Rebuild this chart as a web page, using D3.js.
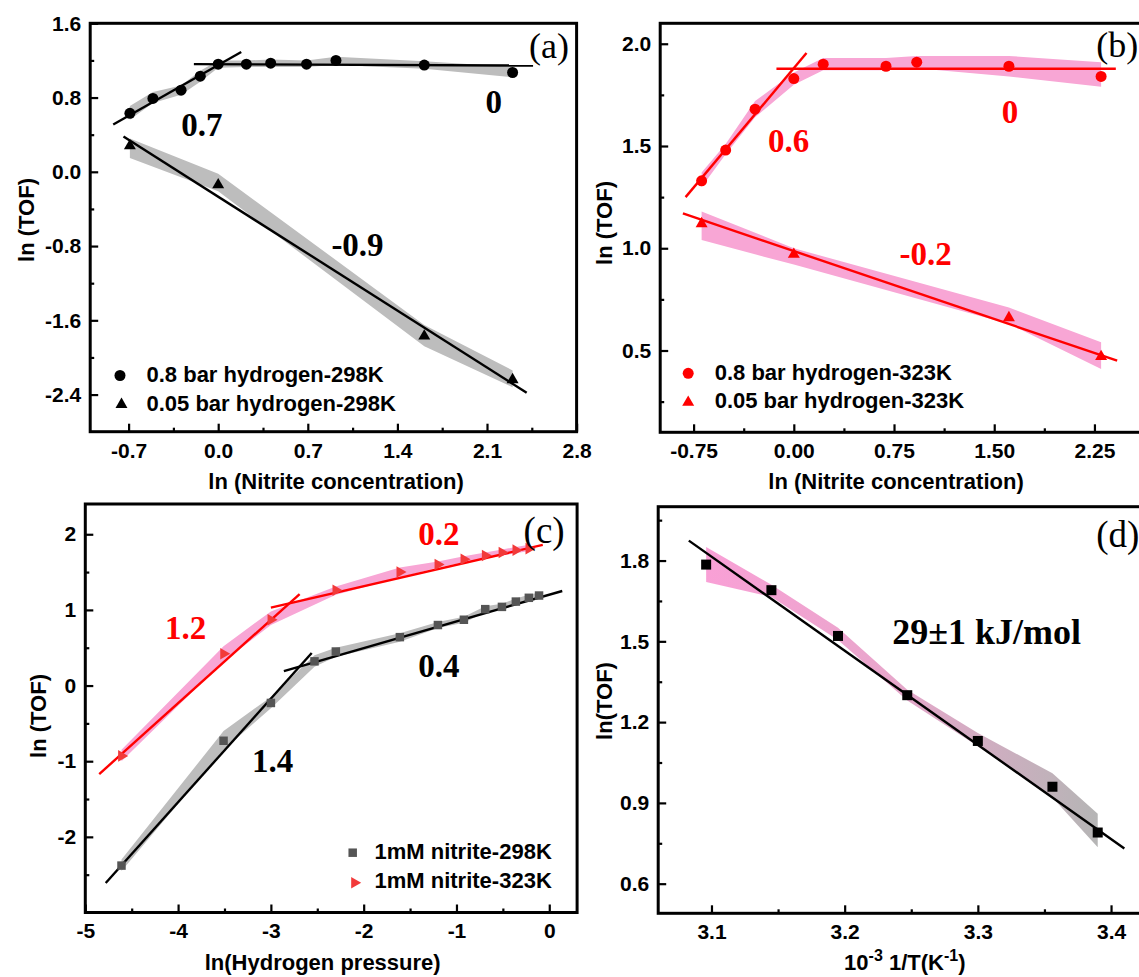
<!DOCTYPE html>
<html><head><meta charset="utf-8">
<script src="https://cdn.jsdelivr.net/npm/d3@7"></script>
<style>body{margin:0;background:#fff} svg{display:block}</style>
</head><body>
<svg id="chart" width="1139" height="977"></svg>
<script>
// ---------------- DATA ----------------
// (a) 298 K, ln(nitrite concentration)
const aCircX  = [-0.69, -0.51, -0.29, -0.14, 0.00, 0.22, 0.41, 0.69, 0.92, 1.61, 2.30];
const aCircY  = [0.63, 0.79, 0.88, 1.03, 1.16, 1.16, 1.17, 1.16, 1.20, 1.15, 1.07];
const aCircLo = [0.56, 0.74, 0.83, 0.97, 1.12, 1.13, 1.13, 1.13, 1.15, 1.11, 1.02];
const aCircHi = [0.71, 0.86, 0.93, 1.09, 1.20, 1.20, 1.21, 1.20, 1.24, 1.19, 1.13];
const aTriX   = [-0.69, 0.00, 1.61, 2.30];
const aTriY   = [0.28, -0.14, -1.77, -2.24];
const aTriLo  = [0.15, -0.21, -1.88, -2.32];
const aTriHi  = [0.36, -0.02, -1.65, -2.14];
const aFit1   = [[-0.82, 0.51], [0.18, 1.29]];
const aFit2   = [[-0.19, 1.16], [2.46, 1.145]];
const aFit3   = [[-0.74, 0.38], [2.41, -2.38]];
const aXTicks = [-0.7, 0.0, 0.7, 1.4, 2.1, 2.8];
const aYTicks = [-2.4, -1.6, -0.8, 0.0, 0.8, 1.6];
const aLegend = ["0.8 bar hydrogen-298K", "0.05 bar hydrogen-298K"];

// (b) 323 K
const bCircX  = [-0.69, -0.51, -0.29, 0.00, 0.22, 0.69, 0.92, 1.61, 2.30];
const bCircY  = [1.33, 1.48, 1.68, 1.83, 1.90, 1.89, 1.91, 1.89, 1.84];
const bCircLo = [1.30, 1.46, 1.64, 1.80, 1.87, 1.87, 1.88, 1.84, 1.79];
const bCircHi = [1.37, 1.51, 1.72, 1.86, 1.93, 1.93, 1.94, 1.94, 1.91];
const bTriX   = [-0.69, 0.00, 1.61, 2.30];
const bTriY   = [1.12, 0.97, 0.66, 0.47];
const bTriLo  = [1.04, 0.92, 0.63, 0.41];
const bTriHi  = [1.18, 1.00, 0.71, 0.54];
const bFit1   = [[-0.81, 1.25], [0.095, 1.955]];
const bFit2   = [[-0.13, 1.878], [2.41, 1.878]];
const bFit3   = [[-0.83, 1.17], [2.42, 0.45]];
const bXTicks = [-0.75, 0.0, 0.75, 1.5, 2.25];
const bYTicks = [0.5, 1.0, 1.5, 2.0];
const bLegend = ["0.8 bar hydrogen-323K", "0.05 bar hydrogen-323K"];

// (c) ln(hydrogen pressure), 1 mM nitrite
const cSqX  = [-4.61, -3.51, -3.00, -2.53, -2.30, -1.61, -1.20, -0.92, -0.69, -0.51, -0.36, -0.22, -0.11];
const cSqY  = [-2.38, -0.73, -0.23, 0.32, 0.45, 0.64, 0.80, 0.87, 1.01, 1.04, 1.11, 1.16, 1.19];
const cSqLo = [-2.45, -0.85, -0.30, 0.25, 0.38, 0.58, 0.76, 0.83, 0.97, 1.00, 1.07, 1.12, 1.15];
const cSqHi = [-2.30, -0.60, -0.15, 0.40, 0.50, 0.69, 0.84, 0.91, 1.05, 1.08, 1.15, 1.20, 1.23];
const cTriX  = [-4.61, -3.51, -3.00, -2.30, -1.61, -1.20, -0.92, -0.69, -0.51, -0.36, -0.22];
const cTriY  = [-0.93, 0.42, 0.87, 1.26, 1.50, 1.60, 1.67, 1.72, 1.76, 1.79, 1.81];
const cTriLo = [-1.00, 0.32, 0.80, 1.20, 1.43, 1.56, 1.63, 1.68, 1.72, 1.75, 1.78];
const cTriHi = [-0.85, 0.52, 0.98, 1.31, 1.56, 1.64, 1.71, 1.76, 1.80, 1.83, 1.86];
const cFitR1 = [[-4.85, -1.17], [-2.69, 1.21]];
const cFitR2 = [[-3.00, 1.03], [-0.07, 1.86]];
const cFitK1 = [[-4.78, -2.61], [-2.56, 0.43]];
const cFitK2 = [[-2.86, 0.19], [0.14, 1.25]];
const cXTicks = [-5, -4, -3, -2, -1, 0];
const cYTicks = [-2, -1, 0, 1, 2];
const cLegend = ["1mM nitrite-298K", "1mM nitrite-323K"];

// (d) Arrhenius
const dX  = [3.096, 3.145, 3.195, 3.247, 3.300, 3.356, 3.390];
const dY  = [1.785, 1.69, 1.52, 1.30, 1.13, 0.96, 0.79];
const dLo = [1.72, 1.665, 1.505, 1.28, 1.11, 0.92, 0.735];
const dHi = [1.85, 1.71, 1.55, 1.32, 1.16, 1.01, 0.86];
const dFit = [[3.083, 1.874], [3.41, 0.731]];
const dXTicks = [3.1, 3.2, 3.3, 3.4];
const dYTicks = [0.6, 0.9, 1.2, 1.5, 1.8];

// ---------------- DRAWING ----------------
const SANS = "'Liberation Sans', Arial, Helvetica, sans-serif";
const SERIF = "'Liberation Serif', 'Times New Roman', Times, serif";
const RED = "#ff0000";
const PINK = "#f8a6d5";
const GREY = "#bdbdbd";
const svg = d3.select("#chart").style("font-family", SANS);
const defs = svg.append("defs");
const grad = defs.append("linearGradient").attr("id", "dgrad")
  .attr("x1", "0%").attr("x2", "100%").attr("y1", "0%").attr("y2", "0%");
grad.append("stop").attr("offset", "0%").attr("stop-color", "#f9a0d6");
grad.append("stop").attr("offset", "45%").attr("stop-color", "#e9a6cc");
grad.append("stop").attr("offset", "100%").attr("stop-color", "#b5b5b5");

const zip3 = (xs, lo, hi) => xs.map((v, i) => ({x: v, lo: lo[i], hi: hi[i]}));
const zip2 = (xs, ys) => xs.map((v, i) => ({x: v, y: ys[i]}));

function panel(o) {
  const x = d3.scaleLinear().domain(o.xDom).range(o.xRange);
  const y = d3.scaleLinear().domain(o.yDom).range(o.yRange);
  const g = svg.append("g");
  const area = d3.area().x(d => x(d.x)).y0(d => y(d.lo)).y1(d => y(d.hi));
  const line = d3.line().x(d => x(d[0])).y(d => y(d[1]));

  o.bands.forEach(b => g.append("path").datum(zip3(b.x, b.lo, b.hi))
    .attr("d", area).attr("fill", b.fill).attr("stroke", "none"));
  o.fits.forEach(f => g.append("path").datum(f.pts).attr("d", line)
    .attr("fill", "none").attr("stroke", f.color).attr("stroke-width", 2.4));
  o.series.forEach(s => {
    const sym = d3.symbol().type(s.type).size(s.size);
    g.selectAll(null).data(zip2(s.x, s.y)).join("path")
      .attr("d", sym)
      .attr("transform", d => `translate(${x(d.x)},${y(d.y)}) rotate(${s.rot || 0})`)
      .attr("fill", s.color);
  });

  // axes
  const x0 = o.xRange[0], y0 = o.yRange[0];
  const styleAxis = sel => {
    sel.select(".domain").remove();
    sel.selectAll(".tick line").attr("stroke", "#000").attr("stroke-width", 2.2);
    sel.selectAll(".tick text").attr("font-family", SANS).attr("font-size", 21)
      .attr("font-weight", "bold").attr("fill", "#000");
  };
  g.append("g").attr("transform", `translate(0,${y0})`)
    .call(d3.axisBottom(x).tickValues(o.xTicks).tickFormat(o.xFmt).tickSize(-8).tickPadding(11))
    .call(styleAxis);
  g.append("g").attr("transform", `translate(0,${y0})`)
    .call(d3.axisBottom(x).tickValues(o.xMinor).tickFormat("").tickSize(-4))
    .call(styleAxis);
  g.append("g").attr("transform", `translate(${x0},0)`)
    .call(d3.axisLeft(y).tickValues(o.yTicks).tickFormat(o.yFmt).tickSize(-8).tickPadding(9))
    .call(styleAxis);
  g.append("g").attr("transform", `translate(${x0},0)`)
    .call(d3.axisLeft(y).tickValues(o.yMinor).tickFormat("").tickSize(-4))
    .call(styleAxis);

  // frame
  g.append("rect").attr("x", o.xRange[0]).attr("y", o.yRange[1])
    .attr("width", o.xRange[1] - o.xRange[0]).attr("height", o.yRange[0] - o.yRange[1])
    .attr("fill", "none").attr("stroke", "#000").attr("stroke-width", 3);

  // legend
  (o.legend || []).forEach(l => {
    const sym = d3.symbol().type(l.type).size(l.size);
    g.append("path").attr("d", sym)
      .attr("transform", `translate(${l.mx},${l.my}) rotate(${l.rot || 0})`).attr("fill", l.color);
    g.append("text").attr("x", l.tx).attr("y", l.ty).text(l.text)
      .attr("font-size", 22).attr("font-weight", "bold").attr("fill", "#000");
  });

  // annotations
  (o.notes || []).forEach(n => {
    g.append("text").attr("x", n.x).attr("y", n.y).text(n.text)
      .attr("font-family", SERIF).attr("font-size", n.size).attr("font-weight", n.bold ? "bold" : "normal")
      .attr("text-anchor", n.anchor || "middle").attr("fill", n.color || "#000");
  });

  // axis titles
  g.append("text").attr("transform", `translate(${o.yTitle.x},${o.yTitle.y}) rotate(-90)`)
    .attr("text-anchor", "middle").attr("dominant-baseline", "central")
    .attr("font-size", 22).attr("font-weight", "bold").text(o.yTitle.text);
  if (o.xTitle.text) {
    g.append("text").attr("x", o.xTitle.x).attr("y", o.xTitle.y).attr("text-anchor", "middle")
      .attr("font-size", 22).attr("font-weight", "bold").text(o.xTitle.text);
  }
  return {x, y, g};
}

const f1 = d => d.toFixed(1), f2 = d => d.toFixed(2), f0 = d => d.toFixed(0);

// (a)
panel({
  xDom: [-1.0, 2.8], xRange: [90.2, 576.6], yDom: [-2.8, 1.6], yRange: [431.7, 23.3],
  xTicks: aXTicks, xMinor: [-0.35, 0.35, 1.05, 1.75, 2.45], xFmt: f1,
  yTicks: aYTicks, yMinor: [-2.0, -1.2, -0.4, 0.4, 1.2], yFmt: f1,
  bands: [{x: aCircX, lo: aCircLo, hi: aCircHi, fill: GREY}, {x: aTriX, lo: aTriLo, hi: aTriHi, fill: GREY}],
  fits: [{pts: aFit1, color: "#000"}, {pts: aFit2, color: "#000"}, {pts: aFit3, color: "#000"}],
  series: [{x: aCircX, y: aCircY, type: d3.symbolCircle, size: 95, color: "#000"},
           {x: aTriX, y: aTriY, type: d3.symbolTriangle, size: 62, color: "#000"}],
  legend: [{type: d3.symbolCircle, size: 95, color: "#000", mx: 120, my: 375.5, tx: 146.5, ty: 381.7, text: aLegend[0]},
           {type: d3.symbolTriangle, size: 62, color: "#000", mx: 121.5, my: 404.5, tx: 146.5, ty: 410.7, text: aLegend[1]}],
  notes: [{x: 201.8, y: 136, text: "0.7", size: 33, bold: true},
          {x: 493.8, y: 112.7, text: "0", size: 33, bold: true},
          {x: 357.5, y: 256, text: "-0.9", size: 33, bold: true},
          {x: 529, y: 58, text: "(a)", size: 36, anchor: "start"}],
  yTitle: {x: 26, y: 220, text: "ln (TOF)"},
  xTitle: {x: 336, y: 489, text: "ln (Nitrite concentration)"}
});

// (b)
panel({
  xDom: [-1.0, 2.6], xRange: [660.2, 1141.2], yDom: [0.1, 2.1], yRange: [432.3, 23.3],
  xTicks: bXTicks, xMinor: [-0.375, 0.375, 1.125, 1.875], xFmt: f2,
  yTicks: bYTicks, yMinor: [0.25, 0.75, 1.25, 1.75], yFmt: f1,
  bands: [{x: bCircX, lo: bCircLo, hi: bCircHi, fill: PINK}, {x: bTriX, lo: bTriLo, hi: bTriHi, fill: PINK}],
  fits: [{pts: bFit1, color: RED}, {pts: bFit2, color: RED}, {pts: bFit3, color: RED}],
  series: [{x: bCircX, y: bCircY, type: d3.symbolCircle, size: 95, color: RED},
           {x: bTriX, y: bTriY, type: d3.symbolTriangle, size: 62, color: RED}],
  legend: [{type: d3.symbolCircle, size: 95, color: RED, mx: 688.2, my: 373.3, tx: 714.7, ty: 380, text: bLegend[0]},
           {type: d3.symbolTriangle, size: 62, color: RED, mx: 688.2, my: 402.3, tx: 714.7, ty: 408.3, text: bLegend[1]}],
  notes: [{x: 788.5, y: 151.7, text: "0.6", size: 33, bold: true, color: RED},
          {x: 1010, y: 122.7, text: "0", size: 33, bold: true, color: RED},
          {x: 925.6, y: 265, text: "-0.2", size: 33, bold: true, color: RED},
          {x: 1096.2, y: 57, text: "(b)", size: 36, anchor: "start"}],
  yTitle: {x: 604, y: 223, text: "ln (TOF)"},
  xTitle: {x: 896, y: 489, text: "ln (Nitrite concentration)"}
});

// (c)
panel({
  xDom: [-5.0, 0.3], xRange: [85.3, 577.1], yDom: [-3.0, 2.4], yRange: [912.5, 504],
  xTicks: cXTicks, xMinor: [-4.5, -3.5, -2.5, -1.5, -0.5], xFmt: f0,
  yTicks: cYTicks, yMinor: [-2.5, -1.5, -0.5, 0.5, 1.5], yFmt: f0,
  bands: [{x: cTriX, lo: cTriLo, hi: cTriHi, fill: PINK}, {x: cSqX, lo: cSqLo, hi: cSqHi, fill: GREY}],
  fits: [{pts: cFitR1, color: RED}, {pts: cFitR2, color: RED}, {pts: cFitK1, color: "#000"}, {pts: cFitK2, color: "#000"}],
  series: [{x: cSqX, y: cSqY, type: d3.symbolSquare, size: 72, color: "#555"},
           {x: cTriX, y: cTriY, type: d3.symbolTriangle, size: 58, color: "#f23a3a", rot: 90}],
  legend: [{type: d3.symbolSquare, size: 72, color: "#555", mx: 352.7, my: 852.7, tx: 374.5, ty: 859.3, text: cLegend[0]},
           {type: d3.symbolTriangle, size: 58, color: "#f23a3a", rot: 90, mx: 354.5, my: 882.7, tx: 374.5, ty: 888.3, text: cLegend[1]}],
  notes: [{x: 185.5, y: 639.3, text: "1.2", size: 33, bold: true, color: RED},
          {x: 438.9, y: 545, text: "0.2", size: 33, bold: true, color: RED},
          {x: 272.7, y: 771.7, text: "1.4", size: 33, bold: true},
          {x: 438.9, y: 677.3, text: "0.4", size: 33, bold: true},
          {x: 523.6, y: 543, text: "(c)", size: 37, anchor: "start"}],
  yTitle: {x: 38, y: 716, text: "ln (TOF)"},
  xTitle: {x: 322.7, y: 970, text: "ln(Hydrogen pressure)"}
});

// (d)
const pd = panel({
  xDom: [3.06, 3.43], xRange: [658.2, 1151], yDom: [0.49, 2.0], yRange: [913.3, 506.7],
  xTicks: dXTicks, xMinor: [3.15, 3.25, 3.35], xFmt: f1,
  yTicks: dYTicks, yMinor: [0.75, 1.05, 1.35, 1.65, 1.95], yFmt: f1,
  bands: [{x: dX, lo: dLo, hi: dHi, fill: "url(#dgrad)"}],
  fits: [{pts: dFit, color: "#000"}],
  series: [{x: dX, y: dY, type: d3.symbolSquare, size: 100, color: "#000"}],
  legend: [],
  notes: [{x: 892.3, y: 644.3, text: "29±1 kJ/mol", size: 36, bold: true, anchor: "start"},
          {x: 1096.3, y: 546.7, text: "(d)", size: 37, anchor: "start"}],
  yTitle: {x: 604, y: 701, text: "ln(TOF)"},
  xTitle: {x: 0, y: 0, text: ""}
});
const dt = pd.g.append("text").attr("x", 904.8).attr("y", 970).attr("text-anchor", "middle")
  .attr("font-size", 22).attr("font-weight", "bold");
dt.append("tspan").text("10");
dt.append("tspan").attr("dy", -9).attr("font-size", 16).text("-3");
dt.append("tspan").attr("dy", 9).text(" 1/T(K");
dt.append("tspan").attr("dy", -9).attr("font-size", 16).text("-1");
dt.append("tspan").attr("dy", 9).text(")");
</script>
</body></html>
